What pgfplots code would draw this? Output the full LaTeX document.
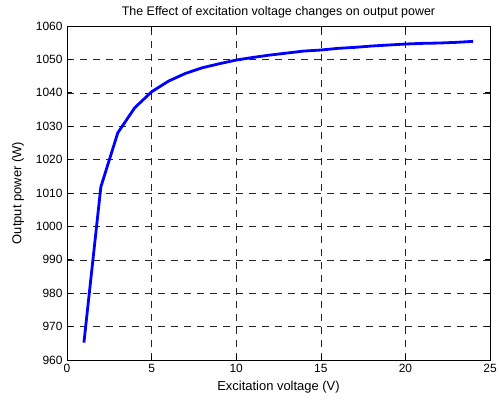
\documentclass[border=0pt]{standalone}
\usepackage{pgfplots}
\pgfplotsset{compat=1.18}
\usepackage{fontspec}
\setmainfont{Liberation Sans}
\begin{document}
\begin{tikzpicture}
\path[use as bounding box] (-67bp,-43bp) rectangle (433bp,360bp);
\begin{axis}[
  scale only axis,
  width=423bp, height=334bp,
  xmin=0, xmax=25, ymin=960, ymax=1060,
  xtick={0,5,...,25}, ytick={960,970,...,1060},
  tick align=inside,
  tick pos=both,
  major tick length=5bp,
  grid=major,
  major grid style={black!85, dash pattern=on 7bp off 6bp, line width=0.5pt},
  axis line style={black, line width=0.7pt},
  every tick/.style={black, line width=0.6pt},
  font=\fontsize{12}{14}\selectfont,
  /pgf/number format/assume math mode=true,
  /pgf/number format/1000 sep={},
  xticklabel style={yshift=-1bp},
  yticklabel style={xshift=-1bp},
  title={The Effect of excitation voltage changes on output power},
  title style={at={(rel axis cs:0.5,1)}, anchor=center, yshift=8bp, font=\fontsize{12.5}{14}\selectfont},
  xlabel={Excitation voltage (V)},
  ylabel={Output power (W)},
  label style={font=\fontsize{13}{15}\selectfont},
  xlabel style={at={(rel axis cs:0.5,0)}, anchor=center, yshift=-27bp},
  ylabel style={at={(rel axis cs:0,0.5)}, anchor=center, yshift=49bp},
]
\addplot[blue, line width=2.8bp] coordinates {
(1,965.2) (2,1011.8) (3,1028) (4,1035.5) (5,1040.3) (6,1043.5) (7,1045.8) (8,1047.5)
(9,1048.7) (10,1049.8) (11,1050.6) (12,1051.3) (13,1051.9) (14,1052.5) (15,1052.8)
(16,1053.3) (17,1053.6) (18,1054.0) (19,1054.3) (20,1054.6) (21,1054.8) (22,1054.9)
(23,1055.1) (24,1055.4)
};
\end{axis}
\end{tikzpicture}
\end{document}
